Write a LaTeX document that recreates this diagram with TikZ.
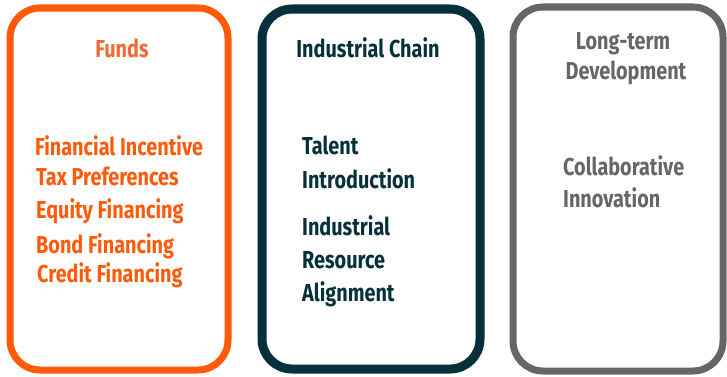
\documentclass[tikz,border=0pt]{standalone}
\usepackage{fontspec}
\setmainfont{Fira Sans}[FakeStretch=0.81]
\usetikzlibrary{positioning}

\definecolor{fundorange}{HTML}{FF5A0A}
\definecolor{fundhead}{HTML}{F26A35}
\definecolor{chainteal}{HTML}{06313A}
\definecolor{devgray}{HTML}{666666}

\tikzset{
  pillar/.style={line width=7pt, rounded corners=30pt},
  txt/.style={inner sep=0pt, anchor=base west, font=\fontsize{24.5}{30}\selectfont\bfseries},
  head/.style={txt, anchor=base}
}

\begin{document}
\begin{tikzpicture}[x=1pt,y=1pt]
		%%%%% START %%%%%
		\useasboundingbox (0,0) rectangle (727,376);
		
		% three columns
		\draw[pillar, draw=fundorange] (10,6) rectangle (228,368);
		\draw[pillar, draw=chainteal, line width=9pt] (262,7) rectangle (480,367);
		\draw[pillar, draw=devgray] (513,5) rectangle (723,369);
		
		% funds
		\node[head, text=fundhead] (funds) at (122,319) {Funds};
		\node[txt, text=fundorange] (incentive) at (35,221) {Financial Incentive};
		\node[txt, text=fundorange] (tax) at (36,191) {Tax Preferences};
		\node[txt, text=fundorange] (equity) at (36,158) {Equity Financing};
		\node[txt, text=fundorange] (bond) at (36,123) {Bond Financing};
		\node[txt, text=fundorange] (credit) at (37,94) {Credit Financing};
		
		% industrial chain
		\node[head, text=chainteal] (chain) at (368,319) {Industrial Chain};
		\node[txt, text=chainteal] (talent) at (302,222) {Talent};
		\node[txt, text=chainteal] (intro) at (302,188) {Introduction};
		\node[txt, text=chainteal] (indus) at (302,141) {Industrial};
		\node[txt, text=chainteal] (resource) at (302,108) {Resource};
		\node[txt, text=chainteal] (align) at (302,75) {Alignment};
		
		% long-term development
		\node[head, text=devgray] (longterm) at (623,327) {Long-term};
		\node[head, text=devgray] (develop) at (626,297) {Development};
		\node[txt, text=devgray] (collab) at (563,201) {Collaborative};
		\node[txt, text=devgray] (innov) at (563,169) {Innovation};
		%%%%% END %%%%%
\end{tikzpicture}
\end{document}
